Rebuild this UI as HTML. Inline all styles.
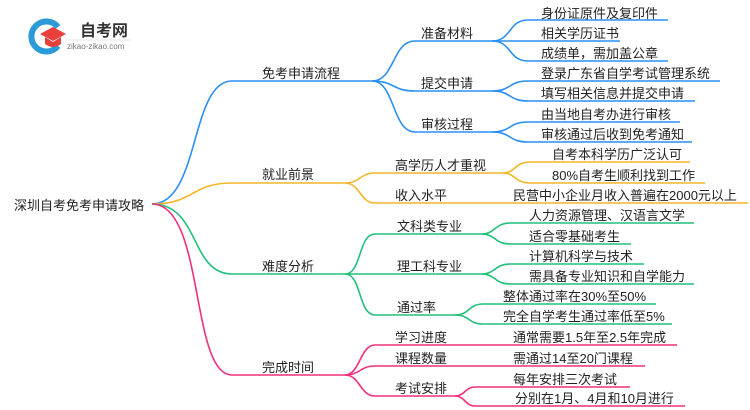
<!DOCTYPE html>
<html><head><meta charset="utf-8"><style>
html,body{margin:0;padding:0;background:#fff;}
svg{display:block;}
text{font-family:"Liberation Sans","Noto Sans CJK SC",sans-serif;font-size:13px;fill:#222;}
</style></head><body>
<svg width="750" height="410" viewBox="0 0 750 410" xmlns="http://www.w3.org/2000/svg">
<!-- logo -->
<path d="M58 27 A15 15 0 1 0 58 46" stroke="#2a9bd8" stroke-width="6" fill="none"/>
<polygon points="40,34 53,27 66,34 53,41" fill="#e8413c"/>
<path d="M45 37 L45 44 Q53 50 61 44 L61 37 L53 42 Z" fill="#e8413c"/>
<text x="80" y="36" style="font-size:16px;font-weight:bold;fill:#333">自考网</text>
<line x1="66" y1="40" x2="131" y2="40" stroke="#ddd" stroke-width="0.8"/>
<text x="67" y="49" style="font-size:8px;fill:#777">zikao-zikao.com</text>

<g fill="none" stroke-width="1.6">
<g stroke="#2b8ff2">
<path d="M152 204 C200 204 190 81 232 81 L372 81"/>
<path d="M372 81 C395 81 392 41 415 41 L492 41"/>
<path d="M372 81 C395 81 392 91 415 91 L492 91"/>
<path d="M372 81 C395 81 392 132 415 132 L492 132"/>
<path d="M492 41 C512 41 508 20 528 20 L668 20"/>
<path d="M492 41 L620 41"/>
<path d="M492 41 C512 41 508 61 528 61 L668 61"/>
<path d="M492 91 C512 91 508 81 528 81 L720 81"/>
<path d="M492 91 C512 91 508 101 528 101 L695 101"/>
<path d="M492 132 C512 132 508 122 528 122 L680 122"/>
<path d="M492 132 C512 132 508 142 528 142 L692 142"/>
</g>
<g stroke="#f5b52a">
<path d="M152 204 C195 204 190 183 232 183 L345 183"/>
<path d="M345 183 C360 183 360 173 375 173 L503 173"/>
<path d="M345 183 C360 183 360 203 375 203 L748 203"/>
<path d="M503 173 C515 173 515 162 530 162 L690 162"/>
<path d="M503 173 C515 173 515 183 530 183 L705 183"/>
</g>
<g stroke="#22c07a">
<path d="M152 204 C200 204 190 274 232 274 L345 274"/>
<path d="M345 274 C362 274 358 234 375 234 L482 234"/>
<path d="M345 274 L482 274"/>
<path d="M345 274 C362 274 358 315 375 315 L455 315"/>
<path d="M482 234 C495 234 495 223 510 223 L694 223"/>
<path d="M482 234 C495 234 495 244 510 244 L631 244"/>
<path d="M482 274 C495 274 495 264 510 264 L644 264"/>
<path d="M482 274 C495 274 495 284 510 284 L694 284"/>
<path d="M455 315 C470 315 468 304 483 304 L656 304"/>
<path d="M455 315 C470 315 468 324 483 324 L672 324"/>
</g>
<g stroke="#f0307c">
<path d="M152 204 C205 204 190 375 232 375 L345 375"/>
<path d="M345 375 C360 375 360 345 375 345 L677 345"/>
<path d="M345 375 C360 375 360 366 375 366 L645 366"/>
<path d="M345 375 C360 375 360 396 375 396 L455 396"/>
<path d="M455 396 C465 396 465 387 475 387 L630 387"/>
<path d="M455 396 C465 396 465 406 475 406 L685 406"/>
</g>
</g>

<text x="14" y="210">深圳自考免考申请攻略</text>
<text x="262" y="78">免考申请流程</text>
<text x="262" y="179">就业前景</text>
<text x="262" y="271">难度分析</text>
<text x="262" y="372">完成时间</text>

<text x="421" y="38">准备材料</text>
<text x="421" y="88">提交申请</text>
<text x="421" y="129">审核过程</text>
<text x="541" y="18">身份证原件及复印件</text>
<text x="541" y="38">相关学历证书</text>
<text x="541" y="58">成绩单，需加盖公章</text>
<text x="541" y="78">登录广东省自学考试管理系统</text>
<text x="541" y="98">填写相关信息并提交申请</text>
<text x="541" y="119">由当地自考办进行审核</text>
<text x="541" y="139">审核通过后收到免考通知</text>

<text x="395" y="170">高学历人才重视</text>
<text x="395" y="200">收入水平</text>
<text x="552" y="159">自考本科学历广泛认可</text>
<text x="552" y="180">80%自考生顺利找到工作</text>
<text x="513" y="200">民营中小企业月收入普遍在2000元以上</text>

<text x="397" y="231">文科类专业</text>
<text x="397" y="271">理工科专业</text>
<text x="397" y="312">通过率</text>
<text x="529" y="220">人力资源管理、汉语言文学</text>
<text x="529" y="241">适合零基础考生</text>
<text x="529" y="261">计算机科学与技术</text>
<text x="529" y="281">需具备专业知识和自学能力</text>
<text x="503" y="301">整体通过率在30%至50%</text>
<text x="503" y="321">完全自学考生通过率低至5%</text>

<text x="395" y="342">学习进度</text>
<text x="395" y="363">课程数量</text>
<text x="395" y="393">考试安排</text>
<text x="513" y="342">通常需要1.5年至2.5年完成</text>
<text x="513" y="363">需通过14至20门课程</text>
<text x="513" y="384">每年安排三次考试</text>
<text x="515" y="403">分别在1月、4月和10月进行</text>
</svg>
</body></html>
